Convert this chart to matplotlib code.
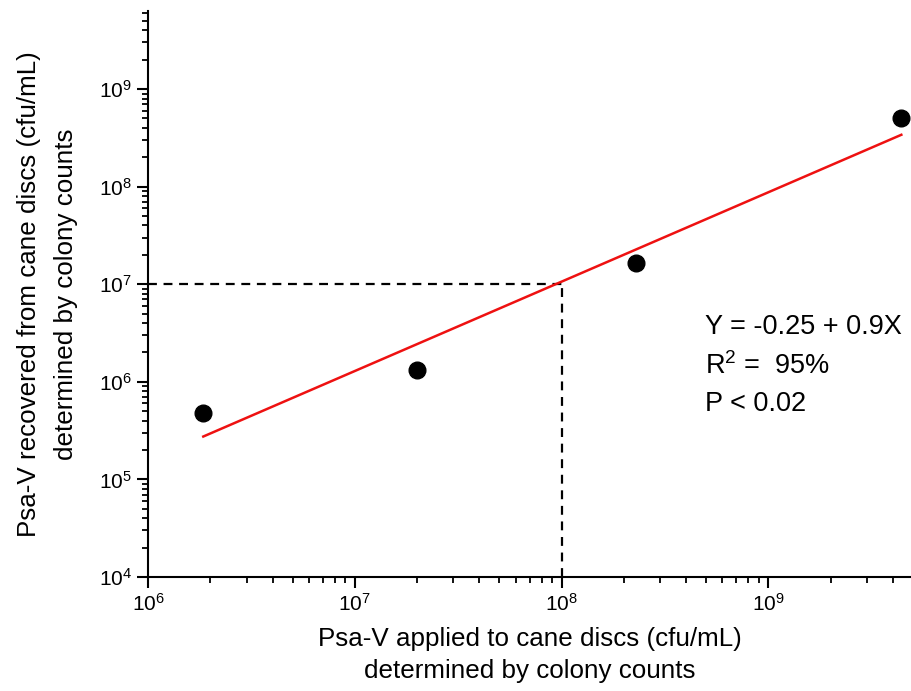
import matplotlib
matplotlib.use("Agg")
import matplotlib.pyplot as plt
from matplotlib.ticker import LogLocator, NullFormatter

# Data
applied = [1.85e6, 2.0e7, 2.3e8, 4.4e9]        # cfu/mL applied
recovered = [4.8e5, 1.33e6, 1.65e7, 5.1e8]     # cfu/mL recovered

# fitted line end points
fit_x = [1.85e6, 4.4e9]
fit_y = [2.75e5, 3.4e8]

# reference guide lines (10^8 applied -> 10^7 recovered)
guide_x = 1e8
guide_y = 1e7

plt.rcParams['font.family'] = ['Liberation Sans', 'DejaVu Sans']
plt.rcParams['mathtext.fontset'] = 'custom'
plt.rcParams['mathtext.rm'] = 'Liberation Sans'
plt.rcParams['mathtext.it'] = 'Liberation Sans:italic'
plt.rcParams['mathtext.default'] = 'regular'

fig = plt.figure(figsize=(9.11, 6.91), dpi=100)
ax = fig.add_axes([0.1625, 0.165, 0.8375, 0.819])

ax.set_xscale('log')
ax.set_yscale('log')
ax.set_xlim(1e6, 4.9e9)
ax.set_ylim(1e4, 6.3e9)

# dashed guides
ax.plot([1e6, guide_x], [guide_y, guide_y], color='black', linestyle=(0, (4, 3)), lw=1.6)
ax.plot([guide_x, guide_x], [1e4, guide_y], color='black', linestyle=(0, (4, 3)), lw=1.6,
        clip_on=False)

ax.plot(fit_x, fit_y, color='#ee1111', lw=1.8)
ax.plot(applied, recovered, 'o', color='black', markersize=12, clip_on=False, zorder=5)

ax.text(0.73, 0.43, 'Y = -0.25 + 0.9X', transform=ax.transAxes, fontsize=19.5)
ax.text(0.73, 0.358, 'R$^{2}$ =  95%', transform=ax.transAxes, fontsize=19.5)
ax.text(0.73, 0.293, 'P < 0.02', transform=ax.transAxes, fontsize=19.5)

ax.set_xlabel('Psa-V applied to cane discs (cfu/mL)\ndetermined by colony counts',
              fontsize=18.7, labelpad=9, linespacing=1.4)
ax.set_ylabel('Psa-V recovered from cane discs (cfu/mL)\ndetermined by colony counts',
              fontsize=18.7, labelpad=15, linespacing=1.7)

for side in ['top', 'right']:
    ax.spines[side].set_visible(False)
for side in ['left', 'bottom']:
    ax.spines[side].set_linewidth(1.5)

ax.xaxis.set_major_locator(LogLocator(base=10, numticks=12))
ax.yaxis.set_major_locator(LogLocator(base=10, numticks=12))
ax.xaxis.set_minor_locator(LogLocator(base=10, subs=range(2, 10), numticks=12))
ax.yaxis.set_minor_locator(LogLocator(base=10, subs=range(2, 10), numticks=12))
ax.xaxis.set_minor_formatter(NullFormatter())
ax.yaxis.set_minor_formatter(NullFormatter())
ax.tick_params(which='major', direction='out', length=8, width=1.5, labelsize=15)
ax.tick_params(which='minor', direction='out', length=4, width=1.3)

fig.savefig('out.png', dpi=100)
